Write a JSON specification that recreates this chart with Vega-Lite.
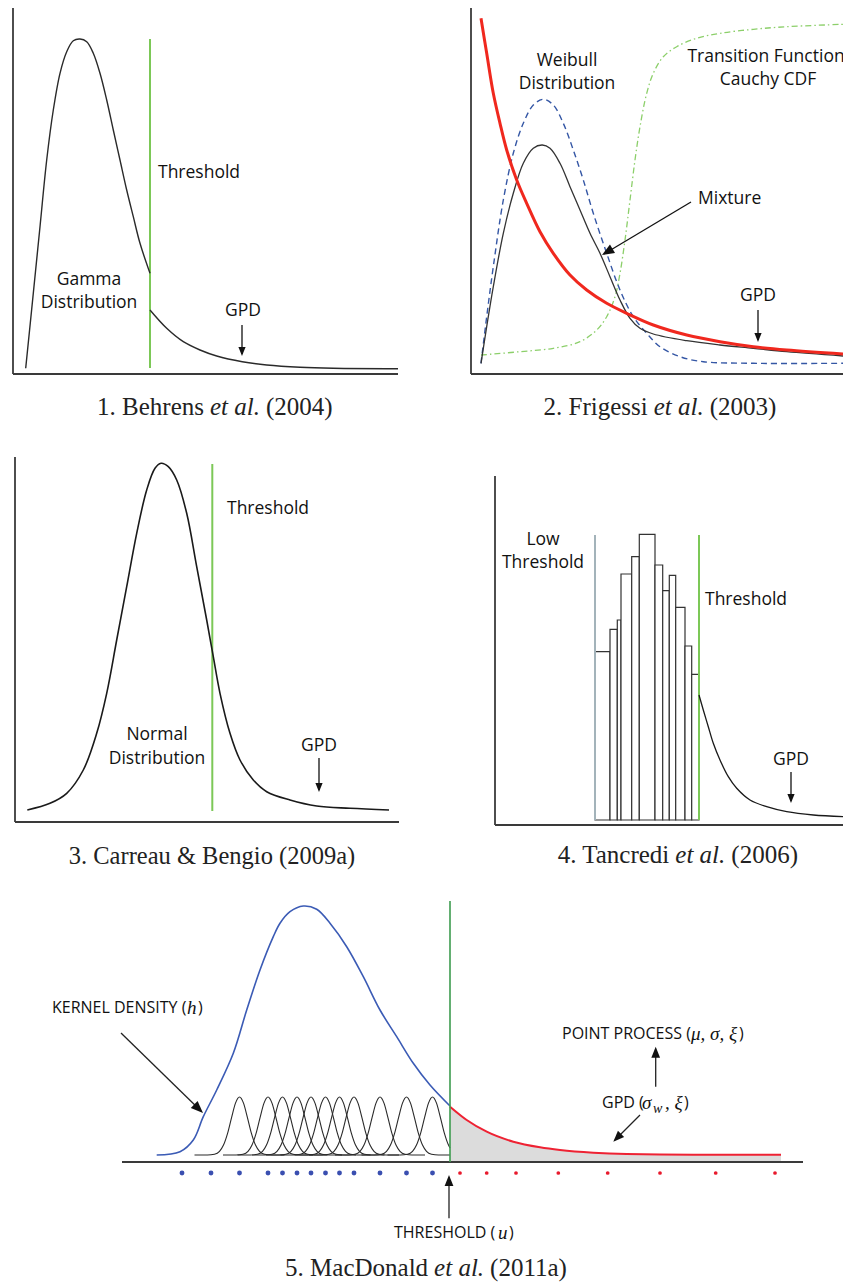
{
"$schema": "https://vega.github.io/schema/vega-lite/v6.json",
"background": "white",
"padding": 0,
"autosize": {"type": "pad"},
"spacing": 0,
"config": {"view": {"stroke": null}, "concat": {"spacing": 0}, "text": {"font": "Open Sans", "color": "#111111"}},
"vconcat": [
{"spacing": 0, "hconcat": [
{
"width": 420, "height": 430,
"encoding": {"x": {"field": "x", "type": "quantitative", "scale": {"domain": [-13, 407], "nice": false, "zero": false}, "axis": null},
"y": {"field": "y", "type": "quantitative", "scale": {"domain": [-56, 374], "nice": false, "zero": false}, "axis": null}},
"layer": [
{"data": {"values": [{"x": 0, "y": 0, "x2": 0, "y2": 366}, {"x": 0, "y": 0, "x2": 385, "y2": 0}]}, "mark": {"type": "rule", "color": "#3a3a3a", "strokeWidth": 1.8}, "encoding": {"x2": {"field": "x2"}, "y2": {"field": "y2"}}},
{"data": {"values": [{"x": 137, "y": 6, "x2": 137, "y2": 335}]}, "mark": {"type": "rule", "color": "#7cc857", "strokeWidth": 2}, "encoding": {"x2": {"field": "x2"}, "y2": {"field": "y2"}}},
{"data": {"values": [
{"g": "a", "x": 12.7, "y": 5.7}, {"g": "a", "x": 20.3, "y": 80.7}, {"g": "a", "x": 27, "y": 147.3}, {"g": "a", "x": 33.7, "y": 214}, {"g": "a", "x": 40.3, "y": 264}, {"g": "a", "x": 47, "y": 300.7}, {"g": "a", "x": 53.7, "y": 322.3}, {"g": "a", "x": 60.3, "y": 333.3}, {"g": "a", "x": 67, "y": 335}, {"g": "a", "x": 73.7, "y": 332.3}, {"g": "a", "x": 80.3, "y": 320.7}, {"g": "a", "x": 87, "y": 300.7}, {"g": "a", "x": 93.7, "y": 274}, {"g": "a", "x": 100.3, "y": 244}, {"g": "a", "x": 107, "y": 214}, {"g": "a", "x": 113.7, "y": 184}, {"g": "a", "x": 120.3, "y": 157.3}, {"g": "a", "x": 127, "y": 130.7}, {"g": "a", "x": 137, "y": 100.7},
{"g": "b", "x": 137, "y": 64}, {"g": "b", "x": 153.7, "y": 45.7}, {"g": "b", "x": 170.3, "y": 32.3}, {"g": "b", "x": 187, "y": 24}, {"g": "b", "x": 203.7, "y": 18}, {"g": "b", "x": 229.3, "y": 12.3}, {"g": "b", "x": 253.7, "y": 9}, {"g": "b", "x": 287, "y": 6.7}, {"g": "b", "x": 320.3, "y": 5.7}, {"g": "b", "x": 385, "y": 5.3}
]}, "mark": {"type": "line", "color": "#2a2a2a", "strokeWidth": 1.4, "interpolate": "catmull-rom"}, "encoding": {"detail": {"field": "g"}}},
{"data": {"values": [{"x": 229, "y": 49, "x2": 229, "y2": 20}]}, "mark": {"type": "rule", "color": "#111", "strokeWidth": 1.3}, "encoding": {"x2": {"field": "x2"}, "y2": {"field": "y2"}}},
{"data": {"values": [{"x": 229, "y": 18}]}, "mark": {"type": "point", "shape": "M0,0L-0.8,2L0.8,2Z", "filled": true, "size": 81, "color": "#111", "opacity": 1, "angle": 180}},
{"data": {"values": [{"x": 76, "y": 94, "t": "Gamma"}, {"x": 76, "y": 71, "t": "Distribution"}, {"x": 230, "y": 63, "t": "GPD"}]}, "mark": {"type": "text", "fontSize": 17.5, "align": "center", "baseline": "middle"}, "encoding": {"text": {"field": "t"}}},
{"data": {"values": [{"x": 145, "y": 201, "t": "Threshold"}]}, "mark": {"type": "text", "fontSize": 17.5, "align": "left", "baseline": "middle"}, "encoding": {"text": {"field": "t"}}},
{"data": {"values": [{"x": 191, "y": -33, "t": "1. Behrens"}]}, "mark": {"type": "text", "font": "Liberation Serif", "fontSize": 25, "align": "right", "baseline": "middle", "color": "#222"}, "encoding": {"text": {"field": "t"}}},
{"data": {"values": [{"x": 253, "y": -33, "t": "(2004)"}]}, "mark": {"type": "text", "font": "Liberation Serif", "fontSize": 25, "align": "left", "baseline": "middle", "color": "#222"}, "encoding": {"text": {"field": "t"}}},
{"data": {"values": [{"x": 197, "y": -33, "t": "et al."}]}, "mark": {"type": "text", "font": "Liberation Serif", "fontStyle": "italic", "fontSize": 25, "align": "left", "baseline": "middle", "color": "#222"}, "encoding": {"text": {"field": "t"}}}
]
},
{
"width": 423, "height": 430,
"encoding": {"x": {"field": "x", "type": "quantitative", "scale": {"domain": [-51, 372], "nice": false, "zero": false}, "axis": null},
"y": {"field": "y", "type": "quantitative", "scale": {"domain": [-56, 374], "nice": false, "zero": false}, "axis": null}},
"layer": [
{"data": {"values": [{"x": 0, "y": 0, "x2": 0, "y2": 366}, {"x": 0, "y": 0, "x2": 372, "y2": 0}]}, "mark": {"type": "rule", "color": "#3a3a3a", "strokeWidth": 1.8}, "encoding": {"x2": {"field": "x2"}, "y2": {"field": "y2"}}},
{"data": {"values": [
{"x": 10, "y": 19}, {"x": 49, "y": 22.3}, {"x": 82.3, "y": 25.7}, {"x": 109, "y": 32.3}, {"x": 125.7, "y": 44}, {"x": 135.7, "y": 57.3}, {"x": 144, "y": 77.3}, {"x": 149, "y": 100.7}, {"x": 154, "y": 134}, {"x": 159, "y": 174}, {"x": 164, "y": 214}, {"x": 169, "y": 247.3}, {"x": 175.7, "y": 280.7}, {"x": 182.3, "y": 300.7}, {"x": 192.3, "y": 317.3}, {"x": 205.7, "y": 327.3}, {"x": 225.7, "y": 335.7}, {"x": 249, "y": 340.7}, {"x": 282.3, "y": 344.7}, {"x": 315.7, "y": 347.3}, {"x": 372, "y": 349.7}
]}, "mark": {"type": "line", "color": "#8ccf6a", "strokeWidth": 1.3, "strokeDash": [6, 3, 1.5, 3], "interpolate": "catmull-rom"}},
{"data": {"values": [
{"x": 10, "y": 10.7}, {"x": 15.7, "y": 57.3}, {"x": 22.3, "y": 107.3}, {"x": 32.3, "y": 174}, {"x": 42.3, "y": 220.7}, {"x": 52.3, "y": 250.7}, {"x": 62.3, "y": 269}, {"x": 72.3, "y": 274.7}, {"x": 82.3, "y": 269}, {"x": 92.3, "y": 250.7}, {"x": 102.3, "y": 224}, {"x": 112.3, "y": 194}, {"x": 122.3, "y": 160.7}, {"x": 135.7, "y": 120.7}, {"x": 149, "y": 84}, {"x": 162.3, "y": 57.3}, {"x": 175.7, "y": 40.7}, {"x": 189, "y": 27.3}, {"x": 209, "y": 17.3}, {"x": 232.3, "y": 12.3}, {"x": 282.3, "y": 10.7}, {"x": 372, "y": 10.7}
]}, "mark": {"type": "line", "color": "#3557a5", "strokeWidth": 1.4, "strokeDash": [6, 4], "interpolate": "catmull-rom"}},
{"data": {"values": [
{"x": 10, "y": 10.7}, {"x": 15.7, "y": 47.3}, {"x": 22.3, "y": 87.3}, {"x": 32.3, "y": 140.7}, {"x": 42.3, "y": 180.7}, {"x": 52.3, "y": 210.7}, {"x": 62.3, "y": 225.7}, {"x": 71.3, "y": 229}, {"x": 79, "y": 225.7}, {"x": 89, "y": 210.7}, {"x": 99, "y": 187.3}, {"x": 109, "y": 164}, {"x": 119, "y": 140.7}, {"x": 129, "y": 120.7}, {"x": 139, "y": 97.3}, {"x": 149, "y": 74}, {"x": 159, "y": 55.7}, {"x": 169, "y": 45.7}, {"x": 182.3, "y": 40}, {"x": 215.7, "y": 33.3}, {"x": 249, "y": 29}, {"x": 282.3, "y": 25.7}, {"x": 315.7, "y": 22.3}, {"x": 372, "y": 18}
]}, "mark": {"type": "line", "color": "#333333", "strokeWidth": 1.3, "interpolate": "catmull-rom"}},
{"data": {"values": [
{"x": 10, "y": 355.7}, {"x": 15.7, "y": 320.7}, {"x": 22.3, "y": 280.7}, {"x": 29, "y": 250.7}, {"x": 35.7, "y": 224}, {"x": 45.7, "y": 194}, {"x": 55.7, "y": 170.7}, {"x": 69, "y": 142.3}, {"x": 82.3, "y": 120.7}, {"x": 99, "y": 99}, {"x": 115.7, "y": 84}, {"x": 135.7, "y": 70.7}, {"x": 155.7, "y": 60.7}, {"x": 182.3, "y": 49}, {"x": 215.7, "y": 39}, {"x": 249, "y": 32.3}, {"x": 282.3, "y": 27.3}, {"x": 315.7, "y": 24}, {"x": 372, "y": 20}
]}, "mark": {"type": "line", "color": "#f0281e", "strokeWidth": 3, "interpolate": "catmull-rom"}},
{"data": {"values": [{"x": 220, "y": 172, "x2": 133, "y2": 120}, {"x": 287, "y": 64, "x2": 287, "y2": 34}]}, "mark": {"type": "rule", "color": "#111", "strokeWidth": 1.3}, "encoding": {"x2": {"field": "x2"}, "y2": {"field": "y2"}}},
{"data": {"values": [{"x": 131, "y": 119}]}, "mark": {"type": "point", "shape": "M0,0L-0.8,2L0.8,2Z", "filled": true, "size": 150, "color": "#111", "opacity": 1, "angle": 239}},
{"data": {"values": [{"x": 287, "y": 32}]}, "mark": {"type": "point", "shape": "M0,0L-0.8,2L0.8,2Z", "filled": true, "size": 81, "color": "#111", "opacity": 1, "angle": 180}},
{"data": {"values": [{"x": 96, "y": 313, "t": "Weibull"}, {"x": 96, "y": 290, "t": "Distribution"}, {"x": 295, "y": 317, "t": "Transition Function"}, {"x": 297, "y": 294, "t": "Cauchy CDF"}, {"x": 287, "y": 78, "t": "GPD"}]}, "mark": {"type": "text", "fontSize": 17.5, "align": "center", "baseline": "middle"}, "encoding": {"text": {"field": "t"}}},
{"data": {"values": [{"x": 227, "y": 175, "t": "Mixture"}]}, "mark": {"type": "text", "fontSize": 17.5, "align": "left", "baseline": "middle"}, "encoding": {"text": {"field": "t"}}},
{"data": {"values": [{"x": 176.7, "y": -33, "t": "2. Frigessi"}]}, "mark": {"type": "text", "font": "Liberation Serif", "fontSize": 25, "align": "right", "baseline": "middle", "color": "#222"}, "encoding": {"text": {"field": "t"}}},
{"data": {"values": [{"x": 238.7, "y": -33, "t": "(2003)"}]}, "mark": {"type": "text", "font": "Liberation Serif", "fontSize": 25, "align": "left", "baseline": "middle", "color": "#222"}, "encoding": {"text": {"field": "t"}}},
{"data": {"values": [{"x": 182.7, "y": -33, "t": "et al."}]}, "mark": {"type": "text", "font": "Liberation Serif", "fontStyle": "italic", "fontSize": 25, "align": "left", "baseline": "middle", "color": "#222"}, "encoding": {"text": {"field": "t"}}}
]
}
]},
{"spacing": 0, "hconcat": [
{
"width": 420, "height": 450,
"encoding": {"x": {"field": "x", "type": "quantitative", "scale": {"domain": [-15, 405], "nice": false, "zero": false}, "axis": null},
"y": {"field": "y", "type": "quantitative", "scale": {"domain": [-58, 392], "nice": false, "zero": false}, "axis": null}},
"layer": [
{"data": {"values": [{"x": 0, "y": 0, "x2": 0, "y2": 365}, {"x": 0, "y": 0, "x2": 384, "y2": 0}]}, "mark": {"type": "rule", "color": "#3a3a3a", "strokeWidth": 1.8}, "encoding": {"x2": {"field": "x2"}, "y2": {"field": "y2"}}},
{"data": {"values": [{"x": 197.3, "y": 11, "x2": 197.3, "y2": 358}]}, "mark": {"type": "rule", "color": "#7cc857", "strokeWidth": 2}, "encoding": {"x2": {"field": "x2"}, "y2": {"field": "y2"}}},
{"data": {"values": [
{"x": 12.3, "y": 12}, {"x": 35, "y": 18.7}, {"x": 51.7, "y": 28.7}, {"x": 68.3, "y": 52}, {"x": 81.7, "y": 88.7}, {"x": 91.7, "y": 128.7}, {"x": 101.7, "y": 182}, {"x": 111.7, "y": 235.3}, {"x": 121.7, "y": 288.7}, {"x": 131.7, "y": 332}, {"x": 140, "y": 353.7}, {"x": 146, "y": 358.7}, {"x": 153.3, "y": 355.3}, {"x": 161.7, "y": 342}, {"x": 171.7, "y": 308.7}, {"x": 181.7, "y": 255.3}, {"x": 191.7, "y": 202}, {"x": 198.3, "y": 165.3}, {"x": 205, "y": 128.7}, {"x": 215, "y": 88.7}, {"x": 225, "y": 62}, {"x": 238.3, "y": 42}, {"x": 251.7, "y": 30.3}, {"x": 275, "y": 22}, {"x": 301.7, "y": 16}, {"x": 335, "y": 13.7}, {"x": 374, "y": 12}
]}, "mark": {"type": "line", "color": "#1a1a1a", "strokeWidth": 1.6, "interpolate": "catmull-rom"}},
{"data": {"values": [{"x": 304, "y": 64, "x2": 304, "y2": 32}]}, "mark": {"type": "rule", "color": "#111", "strokeWidth": 1.3}, "encoding": {"x2": {"field": "x2"}, "y2": {"field": "y2"}}},
{"data": {"values": [{"x": 304, "y": 30}]}, "mark": {"type": "point", "shape": "M0,0L-0.8,2L0.8,2Z", "filled": true, "size": 81, "color": "#111", "opacity": 1, "angle": 180}},
{"data": {"values": [{"x": 142, "y": 87, "t": "Normal"}, {"x": 142, "y": 63, "t": "Distribution"}, {"x": 304, "y": 76, "t": "GPD"}]}, "mark": {"type": "text", "fontSize": 17.5, "align": "center", "baseline": "middle"}, "encoding": {"text": {"field": "t"}}},
{"data": {"values": [{"x": 212, "y": 313, "t": "Threshold"}]}, "mark": {"type": "text", "fontSize": 17.5, "align": "left", "baseline": "middle"}, "encoding": {"text": {"field": "t"}}},
{"data": {"values": [{"x": 197, "y": -35, "t": "3. Carreau & Bengio (2009a)"}]}, "mark": {"type": "text", "font": "Liberation Serif", "fontSize": 24.5, "align": "center", "baseline": "middle", "color": "#222"}, "encoding": {"text": {"field": "t"}}}
]
},
{
"width": 423, "height": 450,
"encoding": {"x": {"field": "x", "type": "quantitative", "scale": {"domain": [-75, 348], "nice": false, "zero": false}, "axis": null},
"y": {"field": "y", "type": "quantitative", "scale": {"domain": [-55, 395], "nice": false, "zero": false}, "axis": null}},
"layer": [
{"data": {"values": [{"x": 0, "y": 0, "x2": 0, "y2": 349}, {"x": 0, "y": 0, "x2": 348, "y2": 0}]}, "mark": {"type": "rule", "color": "#3a3a3a", "strokeWidth": 1.8}, "encoding": {"x2": {"field": "x2"}, "y2": {"field": "y2"}}},
{"data": {"values": [
{"x": 100, "x2": 115, "y": 5, "y2": 173.3}, {"x": 115, "x2": 122.3, "y": 5, "y2": 195.7}, {"x": 122.3, "x2": 126, "y": 5, "y2": 205}, {"x": 126, "x2": 136.7, "y": 5, "y2": 251}, {"x": 136.7, "x2": 144.3, "y": 5, "y2": 268.3}, {"x": 144.3, "x2": 160, "y": 5, "y2": 290.7}, {"x": 160, "x2": 167.7, "y": 5, "y2": 260}, {"x": 167.7, "x2": 174.3, "y": 5, "y2": 234.3}, {"x": 174.3, "x2": 180.7, "y": 5, "y2": 249.7}, {"x": 180.7, "x2": 190, "y": 5, "y2": 217.7}, {"x": 190, "x2": 196.7, "y": 5, "y2": 179}, {"x": 196.7, "x2": 204, "y": 5, "y2": 150.7}
]}, "mark": {"type": "rect", "fill": "white", "stroke": "#333333", "strokeWidth": 1.2}, "encoding": {"x2": {"field": "x2"}, "y2": {"field": "y2"}}},
{"data": {"values": [{"x": 100, "y": 5, "x2": 100, "y2": 290}]}, "mark": {"type": "rule", "color": "#a3b3ba", "strokeWidth": 2}, "encoding": {"x2": {"field": "x2"}, "y2": {"field": "y2"}}},
{"data": {"values": [{"x": 204, "y": 5, "x2": 204, "y2": 290}]}, "mark": {"type": "rule", "color": "#7cc857", "strokeWidth": 2}, "encoding": {"x2": {"field": "x2"}, "y2": {"field": "y2"}}},
{"data": {"values": [
{"x": 204, "y": 130}, {"x": 208.3, "y": 115}, {"x": 213.3, "y": 98.3}, {"x": 218.3, "y": 81.7}, {"x": 225, "y": 65}, {"x": 233.3, "y": 48.3}, {"x": 241.7, "y": 36.7}, {"x": 255, "y": 25}, {"x": 271.7, "y": 18.3}, {"x": 291.7, "y": 13.3}, {"x": 318.3, "y": 10}, {"x": 348, "y": 8.3}
]}, "mark": {"type": "line", "color": "#1a1a1a", "strokeWidth": 1.3, "interpolate": "catmull-rom"}},
{"data": {"values": [{"x": 296, "y": 53, "x2": 296, "y2": 24}]}, "mark": {"type": "rule", "color": "#111", "strokeWidth": 1.3}, "encoding": {"x2": {"field": "x2"}, "y2": {"field": "y2"}}},
{"data": {"values": [{"x": 296, "y": 22}]}, "mark": {"type": "point", "shape": "M0,0L-0.8,2L0.8,2Z", "filled": true, "size": 81, "color": "#111", "opacity": 1, "angle": 180}},
{"data": {"values": [{"x": 48, "y": 285, "t": "Low"}, {"x": 48, "y": 262, "t": "Threshold"}, {"x": 296, "y": 65, "t": "GPD"}]}, "mark": {"type": "text", "fontSize": 17.5, "align": "center", "baseline": "middle"}, "encoding": {"text": {"field": "t"}}},
{"data": {"values": [{"x": 210, "y": 225, "t": "Threshold"}]}, "mark": {"type": "text", "fontSize": 17.5, "align": "left", "baseline": "middle"}, "encoding": {"text": {"field": "t"}}},
{"data": {"values": [{"x": 174.3, "y": -30, "t": "4. Tancredi"}]}, "mark": {"type": "text", "font": "Liberation Serif", "fontSize": 25, "align": "right", "baseline": "middle", "color": "#222"}, "encoding": {"text": {"field": "t"}}},
{"data": {"values": [{"x": 236.3, "y": -30, "t": "(2006)"}]}, "mark": {"type": "text", "font": "Liberation Serif", "fontSize": 25, "align": "left", "baseline": "middle", "color": "#222"}, "encoding": {"text": {"field": "t"}}},
{"data": {"values": [{"x": 180.3, "y": -30, "t": "et al."}]}, "mark": {"type": "text", "font": "Liberation Serif", "fontStyle": "italic", "fontSize": 25, "align": "left", "baseline": "middle", "color": "#222"}, "encoding": {"text": {"field": "t"}}}
]
}
]},
{
"width": 843, "height": 406,
"encoding": {"x": {"field": "x", "type": "quantitative", "scale": {"domain": [-122, 721], "nice": false, "zero": false}, "axis": null},
"y": {"field": "y", "type": "quantitative", "scale": {"domain": [-124, 282], "nice": false, "zero": false}, "axis": null}},
"layer": [
{"data": {"values": [
{"x": 328, "y": 55.3}, {"x": 344.7, "y": 42}, {"x": 364.7, "y": 30.3}, {"x": 391.3, "y": 20.3}, {"x": 418, "y": 14.7}, {"x": 438, "y": 12}, {"x": 471.3, "y": 9.3}, {"x": 504.7, "y": 8}, {"x": 571.3, "y": 7.3}, {"x": 659, "y": 7.3}
]}, "mark": {"type": "area", "color": "#dcdcdc", "interpolate": "monotone", "opacity": 1}, "encoding": {"y2": {"datum": 0}}},
{"data": {"values": [
{"x": 328, "y": 55.3}, {"x": 344.7, "y": 42}, {"x": 364.7, "y": 30.3}, {"x": 391.3, "y": 20.3}, {"x": 418, "y": 14.7}, {"x": 438, "y": 12}, {"x": 471.3, "y": 9.3}, {"x": 504.7, "y": 8}, {"x": 571.3, "y": 7.3}, {"x": 659, "y": 7.3}
]}, "mark": {"type": "line", "color": "#ee2233", "strokeWidth": 2, "interpolate": "monotone"}},
{"data": {"values": [
{"k": 1, "x": 72.5, "y": 7}, {"k": 1, "x": 85.5, "y": 7}, {"k": 1, "x": 92.5, "y": 7.8}, {"k": 1, "x": 97.5, "y": 10.7}, {"k": 1, "x": 101.5, "y": 16.9}, {"k": 1, "x": 105.5, "y": 28.4}, {"k": 1, "x": 109.5, "y": 44.2}, {"k": 1, "x": 113.5, "y": 58.9}, {"k": 1, "x": 117.5, "y": 65}, {"k": 1, "x": 121.5, "y": 58.9}, {"k": 1, "x": 125.5, "y": 44.2}, {"k": 1, "x": 129.5, "y": 28.4}, {"k": 1, "x": 133.5, "y": 16.9}, {"k": 1, "x": 137.5, "y": 10.7}, {"k": 1, "x": 142.5, "y": 7.8}, {"k": 1, "x": 149.5, "y": 7}, {"k": 1, "x": 162.5, "y": 7},
{"k": 2, "x": 101, "y": 7}, {"k": 2, "x": 114, "y": 7}, {"k": 2, "x": 121, "y": 7.8}, {"k": 2, "x": 126, "y": 10.7}, {"k": 2, "x": 130, "y": 16.9}, {"k": 2, "x": 134, "y": 28.4}, {"k": 2, "x": 138, "y": 44.2}, {"k": 2, "x": 142, "y": 58.9}, {"k": 2, "x": 146, "y": 65}, {"k": 2, "x": 150, "y": 58.9}, {"k": 2, "x": 154, "y": 44.2}, {"k": 2, "x": 158, "y": 28.4}, {"k": 2, "x": 162, "y": 16.9}, {"k": 2, "x": 166, "y": 10.7}, {"k": 2, "x": 171, "y": 7.8}, {"k": 2, "x": 178, "y": 7}, {"k": 2, "x": 191, "y": 7},
{"k": 3, "x": 115.5, "y": 7}, {"k": 3, "x": 128.5, "y": 7}, {"k": 3, "x": 135.5, "y": 7.8}, {"k": 3, "x": 140.5, "y": 10.7}, {"k": 3, "x": 144.5, "y": 16.9}, {"k": 3, "x": 148.5, "y": 28.4}, {"k": 3, "x": 152.5, "y": 44.2}, {"k": 3, "x": 156.5, "y": 58.9}, {"k": 3, "x": 160.5, "y": 65}, {"k": 3, "x": 164.5, "y": 58.9}, {"k": 3, "x": 168.5, "y": 44.2}, {"k": 3, "x": 172.5, "y": 28.4}, {"k": 3, "x": 176.5, "y": 16.9}, {"k": 3, "x": 180.5, "y": 10.7}, {"k": 3, "x": 185.5, "y": 7.8}, {"k": 3, "x": 192.5, "y": 7}, {"k": 3, "x": 205.5, "y": 7},
{"k": 4, "x": 130, "y": 7}, {"k": 4, "x": 143, "y": 7}, {"k": 4, "x": 150, "y": 7.8}, {"k": 4, "x": 155, "y": 10.7}, {"k": 4, "x": 159, "y": 16.9}, {"k": 4, "x": 163, "y": 28.4}, {"k": 4, "x": 167, "y": 44.2}, {"k": 4, "x": 171, "y": 58.9}, {"k": 4, "x": 175, "y": 65}, {"k": 4, "x": 179, "y": 58.9}, {"k": 4, "x": 183, "y": 44.2}, {"k": 4, "x": 187, "y": 28.4}, {"k": 4, "x": 191, "y": 16.9}, {"k": 4, "x": 195, "y": 10.7}, {"k": 4, "x": 200, "y": 7.8}, {"k": 4, "x": 207, "y": 7}, {"k": 4, "x": 220, "y": 7},
{"k": 5, "x": 144, "y": 7}, {"k": 5, "x": 157, "y": 7}, {"k": 5, "x": 164, "y": 7.8}, {"k": 5, "x": 169, "y": 10.7}, {"k": 5, "x": 173, "y": 16.9}, {"k": 5, "x": 177, "y": 28.4}, {"k": 5, "x": 181, "y": 44.2}, {"k": 5, "x": 185, "y": 58.9}, {"k": 5, "x": 189, "y": 65}, {"k": 5, "x": 193, "y": 58.9}, {"k": 5, "x": 197, "y": 44.2}, {"k": 5, "x": 201, "y": 28.4}, {"k": 5, "x": 205, "y": 16.9}, {"k": 5, "x": 209, "y": 10.7}, {"k": 5, "x": 214, "y": 7.8}, {"k": 5, "x": 221, "y": 7}, {"k": 5, "x": 234, "y": 7},
{"k": 6, "x": 158.5, "y": 7}, {"k": 6, "x": 171.5, "y": 7}, {"k": 6, "x": 178.5, "y": 7.8}, {"k": 6, "x": 183.5, "y": 10.7}, {"k": 6, "x": 187.5, "y": 16.9}, {"k": 6, "x": 191.5, "y": 28.4}, {"k": 6, "x": 195.5, "y": 44.2}, {"k": 6, "x": 199.5, "y": 58.9}, {"k": 6, "x": 203.5, "y": 65}, {"k": 6, "x": 207.5, "y": 58.9}, {"k": 6, "x": 211.5, "y": 44.2}, {"k": 6, "x": 215.5, "y": 28.4}, {"k": 6, "x": 219.5, "y": 16.9}, {"k": 6, "x": 223.5, "y": 10.7}, {"k": 6, "x": 228.5, "y": 7.8}, {"k": 6, "x": 235.5, "y": 7}, {"k": 6, "x": 248.5, "y": 7},
{"k": 7, "x": 172.5, "y": 7}, {"k": 7, "x": 185.5, "y": 7}, {"k": 7, "x": 192.5, "y": 7.8}, {"k": 7, "x": 197.5, "y": 10.7}, {"k": 7, "x": 201.5, "y": 16.9}, {"k": 7, "x": 205.5, "y": 28.4}, {"k": 7, "x": 209.5, "y": 44.2}, {"k": 7, "x": 213.5, "y": 58.9}, {"k": 7, "x": 217.5, "y": 65}, {"k": 7, "x": 221.5, "y": 58.9}, {"k": 7, "x": 225.5, "y": 44.2}, {"k": 7, "x": 229.5, "y": 28.4}, {"k": 7, "x": 233.5, "y": 16.9}, {"k": 7, "x": 237.5, "y": 10.7}, {"k": 7, "x": 242.5, "y": 7.8}, {"k": 7, "x": 249.5, "y": 7}, {"k": 7, "x": 262.5, "y": 7},
{"k": 8, "x": 187, "y": 7}, {"k": 8, "x": 200, "y": 7}, {"k": 8, "x": 207, "y": 7.8}, {"k": 8, "x": 212, "y": 10.7}, {"k": 8, "x": 216, "y": 16.9}, {"k": 8, "x": 220, "y": 28.4}, {"k": 8, "x": 224, "y": 44.2}, {"k": 8, "x": 228, "y": 58.9}, {"k": 8, "x": 232, "y": 65}, {"k": 8, "x": 236, "y": 58.9}, {"k": 8, "x": 240, "y": 44.2}, {"k": 8, "x": 244, "y": 28.4}, {"k": 8, "x": 248, "y": 16.9}, {"k": 8, "x": 252, "y": 10.7}, {"k": 8, "x": 257, "y": 7.8}, {"k": 8, "x": 264, "y": 7}, {"k": 8, "x": 277, "y": 7},
{"k": 9, "x": 213, "y": 7}, {"k": 9, "x": 226, "y": 7}, {"k": 9, "x": 233, "y": 7.8}, {"k": 9, "x": 238, "y": 10.7}, {"k": 9, "x": 242, "y": 16.9}, {"k": 9, "x": 246, "y": 28.4}, {"k": 9, "x": 250, "y": 44.2}, {"k": 9, "x": 254, "y": 58.9}, {"k": 9, "x": 258, "y": 65}, {"k": 9, "x": 262, "y": 58.9}, {"k": 9, "x": 266, "y": 44.2}, {"k": 9, "x": 270, "y": 28.4}, {"k": 9, "x": 274, "y": 16.9}, {"k": 9, "x": 278, "y": 10.7}, {"k": 9, "x": 283, "y": 7.8}, {"k": 9, "x": 290, "y": 7}, {"k": 9, "x": 303, "y": 7},
{"k": 10, "x": 239.5, "y": 7}, {"k": 10, "x": 252.5, "y": 7}, {"k": 10, "x": 259.5, "y": 7.8}, {"k": 10, "x": 264.5, "y": 10.7}, {"k": 10, "x": 268.5, "y": 16.9}, {"k": 10, "x": 272.5, "y": 28.4}, {"k": 10, "x": 276.5, "y": 44.2}, {"k": 10, "x": 280.5, "y": 58.9}, {"k": 10, "x": 284.5, "y": 65}, {"k": 10, "x": 288.5, "y": 58.9}, {"k": 10, "x": 292.5, "y": 44.2}, {"k": 10, "x": 296.5, "y": 28.4}, {"k": 10, "x": 300.5, "y": 16.9}, {"k": 10, "x": 304.5, "y": 10.7}, {"k": 10, "x": 309.5, "y": 7.8}, {"k": 10, "x": 316.5, "y": 7}, {"k": 10, "x": 328, "y": 7},
{"k": 11, "x": 265.5, "y": 7}, {"k": 11, "x": 278.5, "y": 7}, {"k": 11, "x": 285.5, "y": 7.8}, {"k": 11, "x": 290.5, "y": 10.7}, {"k": 11, "x": 294.5, "y": 16.9}, {"k": 11, "x": 298.5, "y": 28.4}, {"k": 11, "x": 302.5, "y": 44.2}, {"k": 11, "x": 306.5, "y": 58.9}, {"k": 11, "x": 310.5, "y": 65}, {"k": 11, "x": 314.5, "y": 58.9}, {"k": 11, "x": 318.5, "y": 44.2}, {"k": 11, "x": 322.5, "y": 28.4}, {"k": 11, "x": 326.5, "y": 16.9}, {"k": 11, "x": 328, "y": 14}
]}, "mark": {"type": "line", "color": "#2a2a2a", "strokeWidth": 1.1, "interpolate": "monotone"}, "encoding": {"detail": {"field": "k"}}},
{"data": {"values": [
{"x": 34.7, "y": 7}, {"x": 58, "y": 10.3}, {"x": 71.3, "y": 22}, {"x": 81.3, "y": 45.3}, {"x": 94.7, "y": 72}, {"x": 111.3, "y": 108.7}, {"x": 124.7, "y": 152}, {"x": 138, "y": 192}, {"x": 151.3, "y": 225.3}, {"x": 158, "y": 238.7}, {"x": 168, "y": 250.3}, {"x": 181.3, "y": 256}, {"x": 194.7, "y": 252.7}, {"x": 208, "y": 238.7}, {"x": 224.7, "y": 215.3}, {"x": 241.3, "y": 185.3}, {"x": 258, "y": 152}, {"x": 274.7, "y": 125.3}, {"x": 291.3, "y": 98.7}, {"x": 308, "y": 77}, {"x": 328, "y": 56}
]}, "mark": {"type": "line", "color": "#3b5bb5", "strokeWidth": 1.6, "interpolate": "catmull-rom"}},
{"data": {"values": [{"x": 0, "y": 0, "x2": 681, "y2": 0}]}, "mark": {"type": "rule", "color": "#3a3a3a", "strokeWidth": 2}, "encoding": {"x2": {"field": "x2"}, "y2": {"field": "y2"}}},
{"data": {"values": [{"x": 328, "y": 0, "x2": 328, "y2": 261}]}, "mark": {"type": "rule", "color": "#3d9b4f", "strokeWidth": 1.6}, "encoding": {"x2": {"field": "x2"}, "y2": {"field": "y2"}}},
{"data": {"values": [{"x": 60, "y": -11}, {"x": 89, "y": -11}, {"x": 117.5, "y": -11}, {"x": 146, "y": -11}, {"x": 160.5, "y": -11}, {"x": 175, "y": -11}, {"x": 189, "y": -11}, {"x": 203.5, "y": -11}, {"x": 217.5, "y": -11}, {"x": 232, "y": -11}, {"x": 258, "y": -11}, {"x": 284.5, "y": -11}, {"x": 310.5, "y": -11}]}, "mark": {"type": "circle", "color": "#3a4fb0", "size": 24, "opacity": 1}},
{"data": {"values": [{"x": 338, "y": -11}, {"x": 364.7, "y": -11}, {"x": 394, "y": -11}, {"x": 436.3, "y": -11}, {"x": 485.7, "y": -11}, {"x": 538, "y": -11}, {"x": 593.7, "y": -11}, {"x": 653, "y": -11}]}, "mark": {"type": "circle", "color": "#e8192c", "size": 14, "opacity": 1}},
{"data": {"values": [{"x": -1, "y": 129, "x2": 79, "y2": 51}, {"x": 533.7, "y": 75.3, "x2": 533.7, "y2": 112}, {"x": 518, "y": 47, "x2": 493, "y2": 22}, {"x": 327, "y": -56.3, "x2": 327, "y2": -16}]}, "mark": {"type": "rule", "color": "#222", "strokeWidth": 1.3}, "encoding": {"x2": {"field": "x2"}, "y2": {"field": "y2"}}},
{"data": {"values": [{"x": 81, "y": 49}]}, "mark": {"type": "point", "shape": "M0,0L-0.8,2L0.8,2Z", "filled": true, "size": 150, "color": "#111", "opacity": 1, "angle": 134}},
{"data": {"values": [{"x": 533.7, "y": 115.3}, {"x": 327, "y": -13}]}, "mark": {"type": "point", "shape": "M0,0L-0.8,2L0.8,2Z", "filled": true, "size": 120, "color": "#111", "opacity": 1, "angle": 0}},
{"data": {"values": [{"x": 491.3, "y": 20.3}]}, "mark": {"type": "point", "shape": "M0,0L-0.8,2L0.8,2Z", "filled": true, "size": 120, "color": "#111", "opacity": 1, "angle": 225}},
{"data": {"values": [{"x": -70, "y": 154, "t": "KERNEL DENSITY ("}, {"x": 440, "y": 128, "t": "POINT PROCESS ("}, {"x": 272, "y": -71, "t": "THRESHOLD ("}, {"x": 480, "y": 59, "t": "GPD ("}]}, "mark": {"type": "text", "fontSize": 16, "align": "left", "baseline": "middle"}, "encoding": {"text": {"field": "t"}}},
{"data": {"values": [{"x": 65, "y": 154, "t": "h"}, {"x": 569, "y": 128, "t": "μ, σ, ξ"}, {"x": 520, "y": 59, "t": "σ"}, {"x": 543, "y": 59, "t": ", ξ"}, {"x": 376, "y": -71, "t": "u"}]}, "mark": {"type": "text", "font": "Liberation Serif", "fontStyle": "italic", "fontSize": 19, "align": "left", "baseline": "middle"}, "encoding": {"text": {"field": "t"}}},
{"data": {"values": [{"x": 531, "y": 53, "t": "w"}]}, "mark": {"type": "text", "font": "Liberation Serif", "fontStyle": "italic", "fontSize": 14, "align": "left", "baseline": "middle"}, "encoding": {"text": {"field": "t"}}},
{"data": {"values": [{"x": 76, "y": 154, "t": ")"}, {"x": 617, "y": 128, "t": ")"}, {"x": 562, "y": 59, "t": ")"}, {"x": 387, "y": -71, "t": ")"}]}, "mark": {"type": "text", "fontSize": 16, "align": "left", "baseline": "middle"}, "encoding": {"text": {"field": "t"}}},
{"data": {"values": [{"x": 306.1, "y": -106, "t": "5. MacDonald"}]}, "mark": {"type": "text", "font": "Liberation Serif", "fontSize": 25, "align": "right", "baseline": "middle", "color": "#222"}, "encoding": {"text": {"field": "t"}}},
{"data": {"values": [{"x": 368.1, "y": -106, "t": "(2011a)"}]}, "mark": {"type": "text", "font": "Liberation Serif", "fontSize": 25, "align": "left", "baseline": "middle", "color": "#222"}, "encoding": {"text": {"field": "t"}}},
{"data": {"values": [{"x": 312.1, "y": -106, "t": "et al."}]}, "mark": {"type": "text", "font": "Liberation Serif", "fontStyle": "italic", "fontSize": 25, "align": "left", "baseline": "middle", "color": "#222"}, "encoding": {"text": {"field": "t"}}}
]
}
]
}
